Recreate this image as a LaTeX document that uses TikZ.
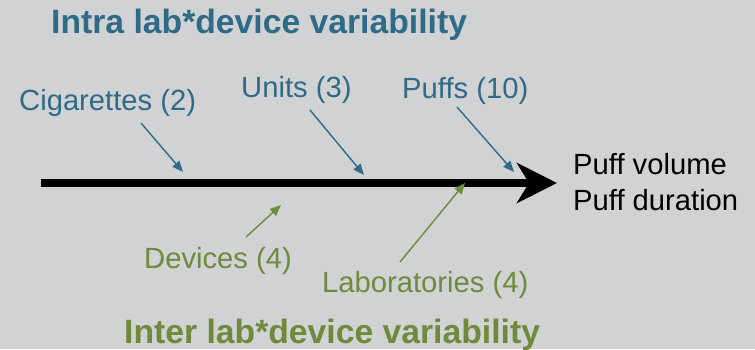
\documentclass[tikz,border=0pt]{standalone}
\usepackage{fontspec}
\setmainfont{Liberation Sans}
\usetikzlibrary{arrows.meta}
\definecolor{bg}{HTML}{D0D2D4}
\definecolor{intra}{HTML}{2F6A87}
\definecolor{inter}{HTML}{6E8A3B}
\tikzset{
  lbl/.style={anchor=base west,inner sep=0pt,font=\fontsize{29.2}{34}\selectfont},
  ttl/.style={anchor=base west,inner sep=0pt,font=\fontsize{33.7}{38}\selectfont\bfseries},
  bluearrow/.style={draw=intra,line width=1.4pt,-{Triangle[length=11pt,width=9pt]},fill=intra},
  greenarrow/.style={draw=inter,line width=1.4pt,-{Triangle[length=11pt,width=9pt]},fill=inter},
  mainarrow/.style={draw=black,line width=8pt,-{Stealth[length=40pt,width=40pt,inset=12pt]}}
}
\begin{document}
\begin{tikzpicture}[x=1pt,y=-1pt]
\fill[bg] (0,0) rectangle (755,349);
\useasboundingbox (0,0) rectangle (755,349);
% titles
\node[ttl,text=intra] (intratitle) at (51,33) {Intra lab*device variability};
\node[ttl,text=inter] (intertitle) at (124,343) {Inter lab*device variability};
% labels
\node[lbl,text=intra] (cig) at (19,110) {Cigarettes (2)};
\node[lbl,text=intra] (units) at (241,97) {Units (3)};
\node[lbl,text=intra] (puffs) at (402,98) {Puffs (10)};
\node[lbl,text=inter] (dev) at (144,268) {Devices (4)};
\node[lbl,text=inter] (lab) at (322,292) {Laboratories (4)};
\node[lbl,text=black] (pv) at (573,174) {Puff volume};
\node[lbl,text=black] (pd) at (573,210) {Puff duration};
% main arrow
\coordinate (mstart) at (41,183);
\coordinate (mend) at (557,183);
\draw[mainarrow] (mstart) -- (mend);
% cause arrows
\coordinate (c1) at (141,123); \coordinate (c1e) at (183,172);
\coordinate (u1) at (310,110); \coordinate (u1e) at (364,175);
\coordinate (p1) at (457,107); \coordinate (p1e) at (514,172);
\coordinate (d1) at (246,237); \coordinate (d1e) at (281,205);
\coordinate (l1) at (400,262); \coordinate (l1e) at (465,183);
\draw[bluearrow] (c1) -- (c1e);
\draw[bluearrow] (u1) -- (u1e);
\draw[bluearrow] (p1) -- (p1e);
\draw[greenarrow] (d1) -- (d1e);
\draw[greenarrow] (l1) -- (l1e);
\end{tikzpicture}
\end{document}
